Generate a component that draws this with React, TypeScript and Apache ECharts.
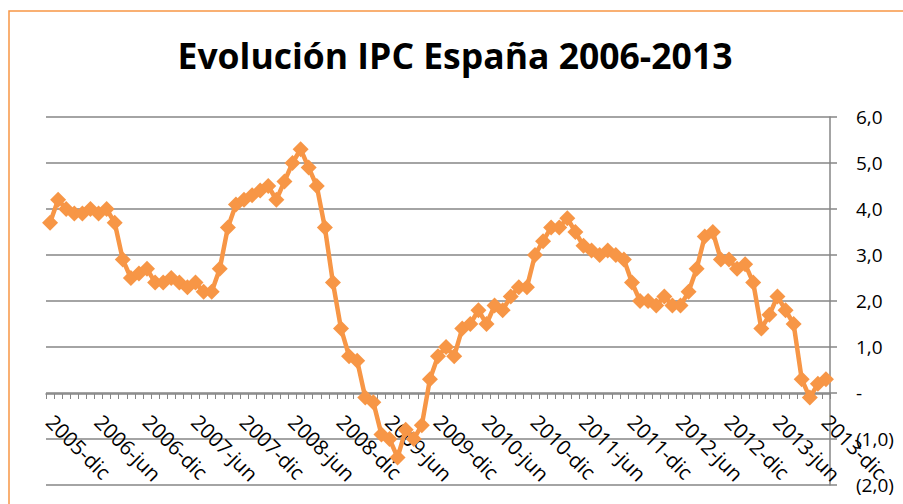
import React, { useEffect, useRef } from "react";
import * as echarts from "echarts";

const years = [2006, 2007, 2008, 2009, 2010, 2011, 2012, 2013];
const months = ["ene", "feb", "mar", "abr", "may", "jun", "jul", "ago", "sep", "oct", "nov", "dic"];
const categories: string[] = ["2005-dic"].concat(
  ...years.map((y) => months.map((m) => `${y}-${m}`))
);

const ipc2005 = [3.7];
const ipc2006 = [4.2, 4.0, 3.9, 3.9, 4.0, 3.9, 4.0, 3.7, 2.9, 2.5, 2.6, 2.7];
const ipc2007 = [2.4, 2.4, 2.5, 2.4, 2.3, 2.4, 2.2, 2.2, 2.7, 3.6, 4.1, 4.2];
const ipc2008 = [4.3, 4.4, 4.5, 4.2, 4.6, 5.0, 5.3, 4.9, 4.5, 3.6, 2.4, 1.4];
const ipc2009 = [0.8, 0.7, -0.1, -0.2, -0.9, -1.0, -1.4, -0.8, -1.0, -0.7, 0.3, 0.8];
const ipc2010 = [1.0, 0.8, 1.4, 1.5, 1.8, 1.5, 1.9, 1.8, 2.1, 2.3, 2.3, 3.0];
const ipc2011 = [3.3, 3.6, 3.6, 3.8, 3.5, 3.2, 3.1, 3.0, 3.1, 3.0, 2.9, 2.4];
const ipc2012 = [2.0, 2.0, 1.9, 2.1, 1.9, 1.9, 2.2, 2.7, 3.4, 3.5, 2.9, 2.9];
const ipc2013 = [2.7, 2.8, 2.4, 1.4, 1.7, 2.1, 1.8, 1.5, 0.3, -0.1, 0.2, 0.3];
const ipcValues = [
  ...ipc2005, ...ipc2006, ...ipc2007, ...ipc2008, ...ipc2009,
  ...ipc2010, ...ipc2011, ...ipc2012, ...ipc2013,
];

const titleText = "Evolución IPC España 2006-2013";
const ORANGE = "#F79646";
const GRID = "#868686";

function fmtY(v: number): string {
  if (v === 0) return "-";
  const s = Math.abs(v).toFixed(1).replace(".", ",");
  return v < 0 ? `(${s})` : s;
}

export default function App() {
  const ref = useRef<HTMLDivElement>(null);
  useEffect(() => {
    if (!ref.current) return;
    const chart = echarts.init(ref.current, undefined, { renderer: "svg" });
    chart.setOption({
      animation: false,
      backgroundColor: "#ffffff",
      graphic: [
        {
          type: "rect",
          shape: { x: 9, y: 11, width: 910, height: 510 },
          style: { fill: "none", stroke: ORANGE, lineWidth: 1.5 },
          z: 10,
        },
        {
          type: "text",
          x: 455,
          y: 55,
          style: {
            text: titleText,
            fontFamily: "Open Sans",
            fontWeight: "bold",
            fontSize: 35.5,
            fill: "#000",
            textAlign: "center",
            textVerticalAlign: "middle",
          },
        },
      ],
      grid: {
        left: 46,
        right: 73,
        top: 117,
        bottom: 19,
        containLabel: false,
        outerBoundsMode: "none",
      },
      xAxis: {
        type: "category",
        data: categories,
        boundaryGap: true,
        position: "bottom",
        offset: -91,
        axisLine: { onZero: false, lineStyle: { color: GRID, width: 1.5 } },
        axisTick: { show: true, interval: 0, length: 5, lineStyle: { color: GRID } },
        axisLabel: {
          interval: 5,
          rotate: -45,
          fontFamily: "Open Sans",
          fontSize: 20.5,
          color: "#000",
          margin: 24,
          hideOverlap: false,
        },
        splitLine: { show: false },
      },
      yAxis: {
        type: "value",
        position: "right",
        min: -2,
        max: 6,
        interval: 1,
        axisLine: { show: true, lineStyle: { color: GRID, width: 1.5 } },
        axisTick: { show: true, length: 7, lineStyle: { color: GRID, width: 1.5 } },
        axisLabel: {
          formatter: fmtY,
          fontFamily: "Open Sans",
          fontSize: 19,
          color: "#000",
          margin: 26,
          align: "left",
        },
        splitLine: { show: true, lineStyle: { color: GRID, width: 1.5 } },
      },
      series: [
        {
          type: "line",
          data: ipcValues,
          symbol: "diamond",
          symbolSize: 16,
          showAllSymbol: true,
          lineStyle: { color: ORANGE, width: 4.5 },
          itemStyle: { color: ORANGE },
          z: 5,
        },
      ],
    });
    return () => chart.dispose();
  }, []);
  return (
    <div
      ref={ref}
      style={{ position: "fixed", left: 0, top: 0, width: 903, height: 504 }}
    />
  );
}
